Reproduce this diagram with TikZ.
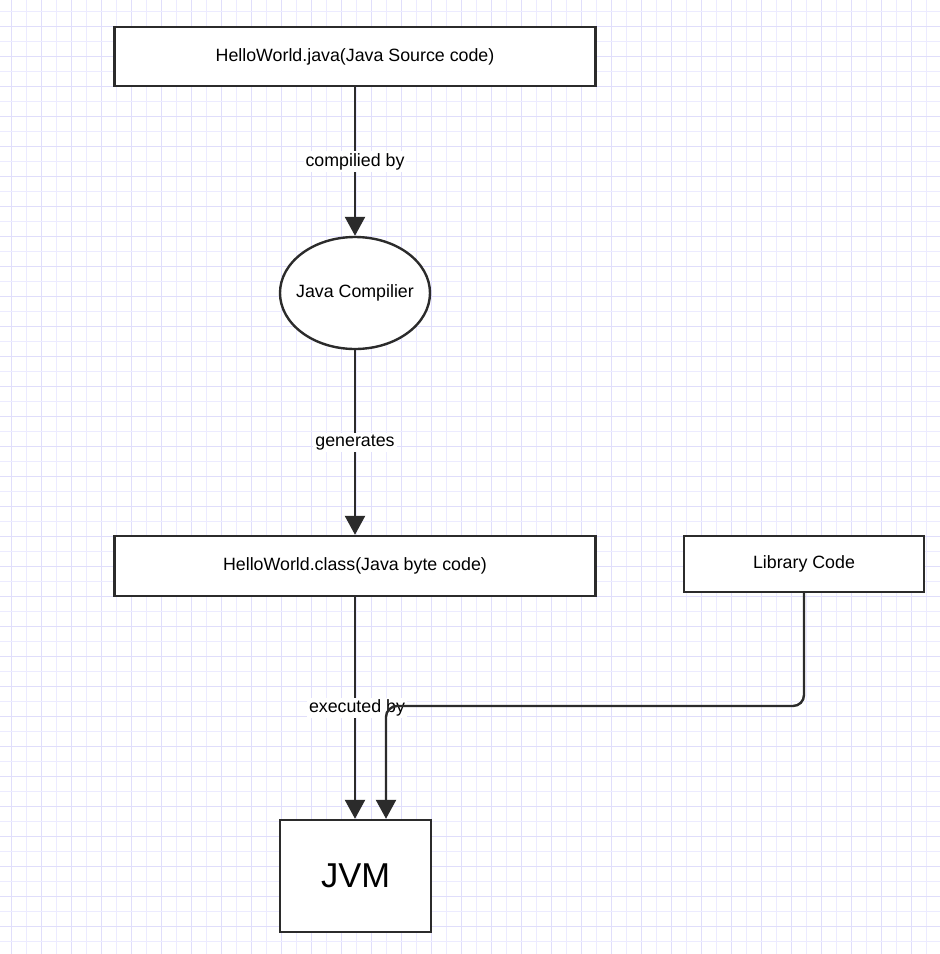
\documentclass[tikz,border=0pt]{standalone}
\usepackage{fontspec}
\setmainfont{Liberation Sans}
\usetikzlibrary{arrows.meta,positioning,shapes.geometric}
\definecolor{gridminor}{HTML}{ECEBFF}
\definecolor{gridmajor}{HTML}{E0DEFB}
\definecolor{edgegray}{HTML}{2B2B2B}

\begin{document}
\begin{tikzpicture}[
  x=1pt,y=-1pt,>={Triangle[length=19pt,width=20pt]},
  every node/.style={font=\fontsize{17.8}{21}\selectfont},
  box/.style={draw=edgegray,line width=2.4pt,fill=white,inner sep=0pt,minimum height=59pt},
  oval/.style={ellipse,draw=edgegray,line width=2.4pt,fill=white,inner sep=0pt,inner xsep=-8pt,minimum width=150pt,minimum height=112pt},
  flow/.style={->,draw=edgegray,line width=2.4pt},
  lbl/.style={fill=white,inner sep=2pt}
]
  % Background and grid
  \fill[white] (0,0) rectangle (940,954);
  \useasboundingbox (0,0) rectangle (940,954);
  \foreach \gx in {26.7,56.7,...,940} \draw[gridminor,line width=1.3pt] (\gx,0) -- (\gx,954);
  \foreach \gx in {11.7,41.7,...,940} \draw[gridmajor,line width=1.3pt] (\gx,0) -- (\gx,954);
  \foreach \gy in {11.7,41.7,...,954} \draw[gridminor,line width=1.3pt] (0,\gy) -- (940,\gy);
  \foreach \gy in {26.7,56.7,...,954} \draw[gridmajor,line width=1.3pt] (0,\gy) -- (940,\gy);

  % Main column
  \node[box,minimum width=481pt] (src)  at (355,56.5) {HelloWorld.java(Java Source code)};
  \node[oval] (comp) at (355,293) {Java Compilier};
  \node[box,minimum width=481pt,minimum height=60pt] (cls) at (355,566) {HelloWorld.class(Java byte code)};
  \node[box,minimum width=151pt,minimum height=112pt,font=\fontsize{34.5}{40}\selectfont] (jvm) at (355.5,876) {JVM};

  % Library box on the right
  \node[box,minimum width=240pt,minimum height=56pt] (lib) at (804,564) {Library Code};

  % Connectors
  \draw[flow] (src) -- node[lbl]{compilied by} (comp);
  \draw[flow] (comp) -- node[lbl]{generates} (cls);
  \draw[flow] (cls.south) -- node[lbl,xshift=2pt]{executed by} (cls.south |- jvm.north);

  % Library code joins the JVM
  \coordinate (libturn) at (386,706);
  \draw[flow,rounded corners=11pt] (lib.south) |- (libturn) -- (libturn |- jvm.north);
\end{tikzpicture}
\end{document}
